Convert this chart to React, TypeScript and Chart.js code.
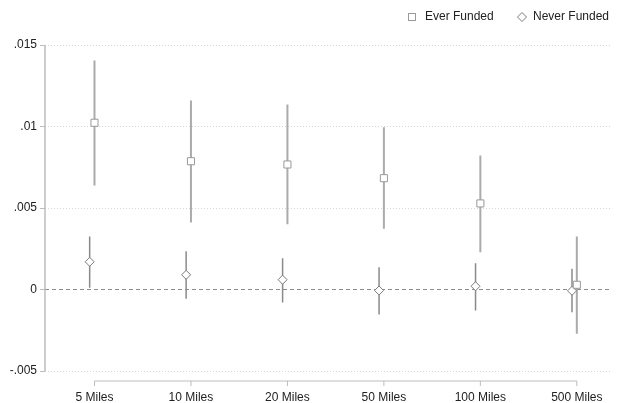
import React, { useEffect, useRef } from "react";
import { Chart, registerables } from "chart.js";

Chart.register(...registerables);

// Distance bands on the x axis
const CATEGORIES = ["5 Miles", "10 Miles", "20 Miles", "50 Miles", "100 Miles", "500 Miles"];

// Ever Funded: point estimates and confidence bounds
const EVER_EST = [0.01023, 0.00787, 0.00767, 0.00683, 0.00528, 0.00029];
const EVER_LO = [0.00638, 0.00411, 0.00401, 0.00372, 0.00229, -0.00272];
const EVER_HI = [0.01405, 0.0116, 0.01135, 0.00996, 0.00822, 0.00325];

// Never Funded: point estimates and confidence bounds
const NEVER_EST = [0.0017, 0.0009, 0.0006, -0.00006, 0.0002, -0.00008];
const NEVER_LO = [0.0001, -0.00057, -0.0008, -0.00153, -0.00129, -0.00139];
const NEVER_HI = [0.00325, 0.00235, 0.00192, 0.00137, 0.00161, 0.00127];

// y-axis ticks and their labels
const Y_TICKS = [-0.005, 0, 0.005, 0.01, 0.015];
const Y_TICK_LABELS = ["-.005", "0", ".005", ".01", ".015"];

const SERIES_NAMES = ["Ever Funded", "Never Funded"];

const FONT_FAMILY = "'Liberation Sans', Arial, Helvetica, sans-serif";
const TEXT_COLOR = "#222";
const AXIS_COLOR = "#bdbdbd";
const EVER_COLOR = "#ababab";
const NEVER_COLOR = "#8a8a8a";
const NEVER_SHIFT = -0.05; // small horizontal dodge for the second series

const points = (est: number[], shift: number) =>
  est.map((y, i) => ({ x: i + shift, y }));

const bars = (lo: number[], hi: number[], shift: number) =>
  lo.flatMap((l, i) => [
    { x: i + shift, y: l },
    { x: i + shift, y: hi[i] },
    { x: i + shift, y: null as number | null },
  ]);

// Stata-style axis lines: y axis spanning the plot region, x axis as a bracket
// set a little below the plot region between the first and last category.
const axesPlugin = {
  id: "stataAxes",
  beforeDatasetsDraw(chart: any) {
    const { ctx, chartArea, scales } = chart;
    const x = scales.x;
    const y = scales.y;
    ctx.save();
    ctx.strokeStyle = AXIS_COLOR;
    ctx.lineWidth = 1.5;
    ctx.setLineDash([]);
    ctx.beginPath();
    ctx.moveTo(chartArea.left, y.getPixelForValue(Y_TICKS[Y_TICKS.length - 1]));
    ctx.lineTo(chartArea.left, y.getPixelForValue(Y_TICKS[0]));
    ctx.stroke();

    const base = chartArea.bottom + 10;
    const x0 = x.getPixelForValue(0);
    const x1 = x.getPixelForValue(CATEGORIES.length - 1);
    ctx.lineWidth = 1.2;
    ctx.beginPath();
    ctx.moveTo(x0, base);
    ctx.lineTo(x1, base);
    ctx.stroke();
    ctx.lineWidth = 1;
    CATEGORIES.forEach((_, i) => {
      const px = x.getPixelForValue(i);
      ctx.beginPath();
      ctx.moveTo(px, base);
      ctx.lineTo(px, base + 5);
      ctx.stroke();
    });
    ctx.restore();
  },
  afterDraw(chart: any) {
    // legend in the top-right corner
    const { ctx } = chart;
    ctx.save();
    ctx.font = `12px ${FONT_FAMILY}`;
    ctx.textBaseline = "middle";
    ctx.fillStyle = TEXT_COLOR;
    const cy = 17;
    // square marker
    ctx.strokeStyle = "#9a9a9a";
    ctx.lineWidth = 1;
    ctx.strokeRect(408.5, cy - 3.5, 7, 7);
    ctx.fillText(SERIES_NAMES[0], 425, cy);
    // diamond marker
    ctx.strokeStyle = "#7a7a7a";
    ctx.beginPath();
    ctx.moveTo(522, cy - 4.5);
    ctx.lineTo(526.5, cy);
    ctx.lineTo(522, cy + 4.5);
    ctx.lineTo(517.5, cy);
    ctx.closePath();
    ctx.stroke();
    ctx.fillText(SERIES_NAMES[1], 533, cy);
    ctx.restore();
  },
};

export default function App() {
  const canvasRef = useRef<HTMLCanvasElement>(null);

  useEffect(() => {
    Chart.defaults.font.family = FONT_FAMILY;
    const chart = new Chart(canvasRef.current!, {
      type: "scatter",
      data: {
        datasets: [
          {
            label: SERIES_NAMES[0],
            data: points(EVER_EST, 0),
            pointStyle: "rect",
            pointRadius: 5,
            pointBackgroundColor: "#ffffff",
            pointBorderColor: "#9a9a9a",
            pointBorderWidth: 1,
            order: 0,
          },
          {
            label: SERIES_NAMES[1],
            data: points(NEVER_EST, NEVER_SHIFT),
            pointStyle: "rectRot",
            pointRadius: 4.5,
            pointBackgroundColor: "#ffffff",
            pointBorderColor: "#7a7a7a",
            pointBorderWidth: 1,
            order: 1,
          },
          {
            label: "Ever Funded CI",
            data: bars(EVER_LO, EVER_HI, 0),
            showLine: true,
            spanGaps: false,
            borderColor: EVER_COLOR,
            borderWidth: 2,
            pointRadius: 0,
            order: 2,
          },
          {
            label: "Never Funded CI",
            data: bars(NEVER_LO, NEVER_HI, NEVER_SHIFT),
            showLine: true,
            spanGaps: false,
            borderColor: NEVER_COLOR,
            borderWidth: 1.5,
            pointRadius: 0,
            order: 3,
          },
        ],
      },
      options: {
        animation: false,
        responsive: true,
        maintainAspectRatio: false,
        events: [],
        layout: { padding: { top: 45, right: 8, bottom: 0, left: 0 } },
        plugins: {
          legend: { display: false },
          tooltip: { enabled: false },
        },
        scales: {
          x: {
            type: "linear",
            min: -0.513,
            max: 5.365,
            afterBuildTicks: (scale: any) => {
              scale.ticks = CATEGORIES.map((_, i) => ({ value: i }));
            },
            afterFit: (scale: any) => {
              scale.height = 32;
            },
            grid: { display: false, drawTicks: false },
            border: { display: false },
            ticks: {
              padding: 19,
              maxRotation: 0,
              autoSkip: false,
              color: TEXT_COLOR,
              font: { size: 12 },
              callback: (_v: any, i: number) => CATEGORIES[i],
            },
          },
          y: {
            type: "linear",
            min: Y_TICKS[0],
            max: Y_TICKS[Y_TICKS.length - 1],
            afterBuildTicks: (scale: any) => {
              scale.ticks = Y_TICKS.map((value) => ({ value }));
            },
            afterFit: (scale: any) => {
              scale.width = 45;
            },
            grid: {
              color: (c: any) => (c.tick && c.tick.value === 0 ? "#8c8c8c" : "#d6d6d6"),
              lineWidth: 1,
              drawTicks: true,
              tickLength: 5,
              tickColor: AXIS_COLOR,
              tickWidth: 1,
              tickBorderDash: [],
            },
            border: {
              display: false,
              dash: (c: any) => (c.tick && c.tick.value === 0 ? [4, 3] : [1, 2]),
            },
            ticks: {
              padding: 3,
              color: TEXT_COLOR,
              font: { size: 12 },
              callback: (_v: any, i: number) => Y_TICK_LABELS[i],
            },
          },
        },
      },
      plugins: [axesPlugin],
    });
    return () => chart.destroy();
  }, []);

  return (
    <div
      style={{
        position: "fixed",
        left: 0,
        top: 0,
        width: 622,
        height: 403,
        background: "#ffffff",
      }}
    >
      <canvas ref={canvasRef} />
    </div>
  );
}
